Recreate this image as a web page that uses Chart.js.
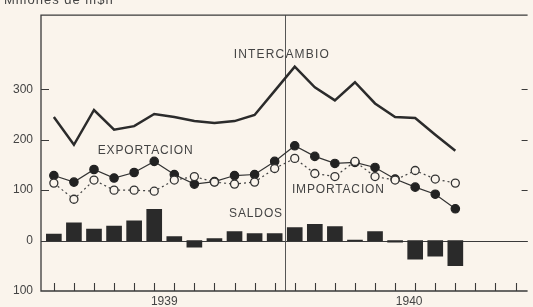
<!DOCTYPE html>
<html>
<head>
<meta charset="utf-8">
<script src="https://cdn.jsdelivr.net/npm/chart.js@4"></script>
<style>
  html, body { margin: 0; padding: 0; background: #faf4ec; overflow: hidden; }
  #chart { display: block; }
</style>
</head>
<body>
<canvas id="chart" width="533" height="307"></canvas>
<script>
// months Jan 1939 .. Sep 1940 (index 0 = enero 1939)
const months = ['E','F','M','A','M','J','J','A','S','O','N','D',
                'E','F','M','A','M','J','J','A','S'];
const intercambio = [245,190,259,220,227,251,245,237,233,237,249,297,345,304,278,314,272,245,243,210,178];
const exportacion = [129,116,141,124,135,157,131,112,117,129,131,157,188,167,153,155,145,122,106,92,63];
const importacion = [114,82,120,100,100,98,120,127,116,112,116,143,163,133,127,157,127,120,139,122,114];
const saldos      = [13,35,23,29,39,62,8,-13,4,18,14,14,26,32,28,1,18,-3,-37,-31,-50];

const yTicks = [-100, 0, 100, 200, 300];
const years = ['1939', '1940'];
const yearPos = [5.5, 17.7];
const monthTicks = 24;

const INK = '#2b2b2b';
const TEXT = '#444';
const BG = '#faf4ec';

function xy(arr) {
  return arr.map((v, i) => ({ x: i, y: v }));
}

// draw text stretched to a given width using letter spacing
function spacedText(ctx, str, cx, cy, size, target) {
  ctx.save();
  ctx.font = size + 'px "Liberation Sans", Arial, sans-serif';
  ctx.letterSpacing = '0px';
  let w = ctx.measureText(str).width;
  let sp = Math.max(0, (target - w) / (str.length - 1));
  ctx.letterSpacing = sp + 'px';
  ctx.fillStyle = TEXT;
  ctx.textBaseline = 'middle';
  ctx.textAlign = 'left';
  ctx.fillText(str, cx - target / 2, cy);
  ctx.restore();
}

const frame = {
  id: 'frame',
  beforeDatasetsDraw(chart) {
    const { ctx, chartArea: a, scales: { x, y } } = chart;
    ctx.save();
    ctx.strokeStyle = '#3a3a3a';
    ctx.lineWidth = 1.1;
    // zero line
    let y0 = Math.round(y.getPixelForValue(0)) + 0.5;
    ctx.beginPath();
    ctx.moveTo(a.left, y0);
    ctx.lineTo(a.right, y0);
    ctx.stroke();
    // year divider
    let xd = Math.round(x.getPixelForValue(11.5)) + 0.5;
    ctx.strokeStyle = '#555';
    ctx.lineWidth = 1;
    ctx.beginPath();
    ctx.moveTo(xd, a.top);
    ctx.lineTo(xd, a.bottom);
    ctx.stroke();
    ctx.restore();
  },
  afterDraw(chart) {
    const { ctx, chartArea: a, scales: { x, y } } = chart;
    ctx.save();
    ctx.strokeStyle = '#3a3a3a';
    ctx.lineWidth = 1.3;
    ctx.beginPath();
    ctx.moveTo(a.right, a.top);
    ctx.lineTo(a.left, a.top);
    ctx.lineTo(a.left, a.bottom);
    ctx.lineTo(a.right, a.bottom);
    ctx.stroke();

    // month ticks, pointing up from bottom axis
    ctx.lineWidth = 1.1;
    ctx.beginPath();
    for (let i = 0; i < monthTicks; i++) {
      let px = Math.round(x.getPixelForValue(i)) + 0.5;
      ctx.moveTo(px, a.bottom);
      ctx.lineTo(px, a.bottom - 8);
    }
    // y ticks inward, left and right
    yTicks.forEach(v => {
      if (v === yTicks[0]) return;
      let py = Math.round(y.getPixelForValue(v)) + 0.5;
      ctx.moveTo(a.left, py);
      ctx.lineTo(a.left + 8, py);
      ctx.moveTo(a.right, py);
      ctx.lineTo(a.right - 6, py);
    });
    ctx.stroke();

    // series labels
    const lx = v => x.getPixelForValue(v);
    const ly = v => y.getPixelForValue(v);
    spacedText(ctx, 'INTERCAMBIO', lx(11.33), ly(369), 12, 95);
    spacedText(ctx, 'EXPORTACION', lx(4.55), ly(178), 12, 95);
    spacedText(ctx, 'IMPORTACION', lx(14.15), ly(100), 12, 92);
    spacedText(ctx, 'SALDOS', lx(10.05), ly(53), 12, 53);

    // unit title, cut by the top edge
    ctx.font = '13px "Liberation Sans", Arial, sans-serif';
    ctx.letterSpacing = '1px';
    ctx.fillStyle = TEXT;
    ctx.textBaseline = 'alphabetic';
    ctx.textAlign = 'left';
    ctx.fillText('Millones de m$n', 4, 4);
    ctx.restore();
  }
};

const ctx = document.getElementById('chart').getContext('2d');
new Chart(ctx, {
  data: {
    datasets: [
      {
        type: 'line', label: 'Intercambio', data: xy(intercambio),
        borderColor: INK, borderWidth: 2.5, pointRadius: 0, tension: 0, order: 1
      },
      {
        type: 'line', label: 'Importación', data: xy(importacion),
        borderColor: '#444', borderWidth: 1.2, borderDash: [2, 3],
        pointRadius: 4, pointBackgroundColor: BG, pointBorderColor: '#333',
        pointBorderWidth: 1.3, order: 2
      },
      {
        type: 'line', label: 'Exportación', data: xy(exportacion),
        borderColor: '#333', borderWidth: 1.2,
        pointRadius: 4.2, pointBackgroundColor: '#222', pointBorderColor: '#222',
        order: 3
      },
      {
        type: 'bar', label: 'Saldos', data: xy(saldos),
        backgroundColor: '#2a2a2a', barThickness: 15, order: 4
      }
    ]
  },
  options: {
    responsive: false,
    animation: false,
    devicePixelRatio: 1,
    layout: { padding: { top: 12, left: 0, right: 0, bottom: 0 } },
    plugins: { legend: { display: false }, tooltip: { enabled: false } },
    scales: {
      x: {
        type: 'linear', min: -0.64, max: 23.6, offset: false,
        grid: { display: false, drawTicks: false }, border: { display: false },
        afterBuildTicks: s => { s.ticks = yearPos.map(v => ({ value: v })); },
        afterFit: s => { s.height = 16; },
        ticks: {
          autoSkip: false, maxRotation: 0, padding: 3,
          color: TEXT, font: { size: 12, family: '"Liberation Sans", Arial, sans-serif' },
          callback: (v, i) => years[i]
        }
      },
      y: {
        min: -100, max: 447,
        grid: { display: false, drawTicks: false }, border: { display: false },
        afterBuildTicks: s => { s.ticks = yTicks.map(v => ({ value: v })); },
        afterFit: s => { s.width = 41; },
        ticks: {
          padding: 8, color: TEXT,
          font: { size: 12, family: '"Liberation Sans", Arial, sans-serif' },
          callback: v => String(Math.abs(v))
        }
      }
    }
  },
  plugins: [frame]
});
</script>
</body>
</html>
